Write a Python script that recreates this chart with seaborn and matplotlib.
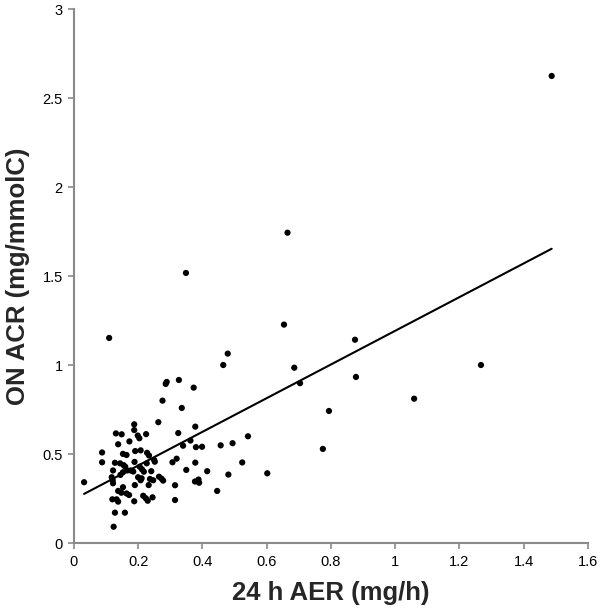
import matplotlib
matplotlib.use("Agg")
import matplotlib.pyplot as plt
import seaborn as sns
import pandas as pd
from matplotlib.ticker import FuncFormatter, MultipleLocator

aer_24h = [1.487, 0.665, 0.349, 0.654, 0.110, 0.875, 0.479, 0.465, 1.267, 0.686,
           0.878, 0.289, 0.286, 0.327, 0.704, 0.373, 1.059, 0.276, 0.336, 0.794,
           0.263, 0.188, 0.378, 0.188, 0.325, 0.542, 0.131, 0.149, 0.199, 0.204,
           0.225, 0.363, 0.173, 0.138, 0.494, 0.457, 0.340, 0.380, 0.399, 0.775,
           0.088, 0.088, 0.153, 0.164, 0.191, 0.208, 0.228, 0.234, 0.250, 0.252,
           0.128, 0.144, 0.155, 0.160, 0.189, 0.227, 0.307, 0.320, 0.378, 0.524,
           0.122, 0.153, 0.145, 0.166, 0.177, 0.185, 0.205, 0.212, 0.218, 0.241,
           0.350, 0.415, 0.481, 0.602, 0.118, 0.200, 0.211, 0.208, 0.237, 0.247,
           0.265, 0.273, 0.278, 0.032, 0.121, 0.122, 0.190, 0.233, 0.315, 0.377,
           0.388, 0.390, 0.138, 0.148, 0.153, 0.164, 0.172, 0.120, 0.133, 0.138,
           0.188, 0.216, 0.224, 0.230, 0.245, 0.315, 0.446, 0.128, 0.159, 0.124]

on_acr = [2.625, 1.745, 1.519, 1.229, 1.154, 1.144, 1.066, 1.002, 1.002, 0.987,
          0.935, 0.907, 0.896, 0.918, 0.900, 0.875, 0.813, 0.802, 0.761, 0.744,
          0.681, 0.669, 0.656, 0.637, 0.620, 0.602, 0.618, 0.613, 0.606, 0.591,
          0.614, 0.578, 0.573, 0.557, 0.563, 0.551, 0.549, 0.541, 0.543, 0.531,
          0.511, 0.456, 0.503, 0.497, 0.519, 0.523, 0.509, 0.494, 0.469, 0.459,
          0.453, 0.450, 0.440, 0.431, 0.458, 0.450, 0.456, 0.476, 0.454, 0.455,
          0.410, 0.400, 0.385, 0.410, 0.410, 0.404, 0.431, 0.417, 0.403, 0.406,
          0.413, 0.406, 0.387, 0.394, 0.372, 0.372, 0.366, 0.355, 0.362, 0.355,
          0.375, 0.364, 0.353, 0.344, 0.355, 0.338, 0.328, 0.328, 0.327, 0.348,
          0.359, 0.341, 0.295, 0.285, 0.316, 0.281, 0.272, 0.248, 0.248, 0.235,
          0.237, 0.268, 0.254, 0.240, 0.259, 0.244, 0.295, 0.173, 0.173, 0.094]

x_label = "24 h AER (mg/h)"
y_label = "ON ACR (mg/mmolC)"

sns.set_style("white")
plt.rcParams["font.family"] = ["Liberation Sans", "DejaVu Sans"]

df = pd.DataFrame({"aer": aer_24h, "acr": on_acr})

fig = plt.figure(figsize=(6.0, 6.11), dpi=100)
ax = fig.add_axes([0.123, 0.1105, 0.857, 0.8745])

sns.regplot(data=df, x="aer", y="acr", ax=ax, ci=None, truncate=True,
            scatter_kws=dict(s=20, color="black", edgecolor="none", alpha=1),
            line_kws=dict(color="black", lw=1.5))

ax.set_xlim(0, 1.6)
ax.set_ylim(0, 3)
ax.xaxis.set_major_locator(MultipleLocator(0.2))
ax.yaxis.set_major_locator(MultipleLocator(0.5))
fmt = FuncFormatter(lambda v, p: f"{v:g}")
ax.xaxis.set_major_formatter(fmt)
ax.yaxis.set_major_formatter(fmt)

for s in ["top", "right"]:
    ax.spines[s].set_visible(False)
for s in ["left", "bottom"]:
    ax.spines[s].set_color("#8a8a8a")
    ax.spines[s].set_linewidth(1.5)

ax.tick_params(axis="both", which="major", direction="out", length=4, width=1.2,
               color="#8a8a8a", labelsize=10.5, labelcolor="black", pad=4,
               bottom=True, left=True)

ax.set_xlabel(x_label, fontsize=18.5, fontweight="bold", labelpad=9)
ax.set_ylabel(y_label, fontsize=18.5, fontweight="bold", labelpad=9)

fig.savefig("out.png", dpi=100)
